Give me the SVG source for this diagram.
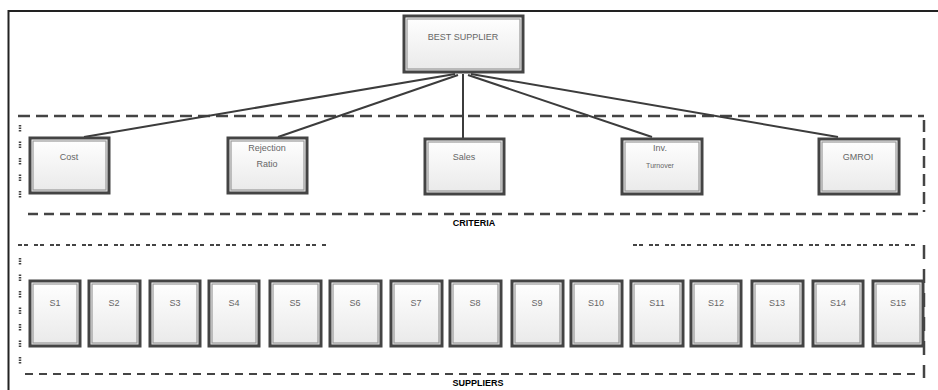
<svg xmlns="http://www.w3.org/2000/svg" width="938" height="390" viewBox="0 0 938 390">
<defs>
<linearGradient id="g" x1="0" y1="0" x2="0" y2="1">
<stop offset="0" stop-color="#ffffff"/>
<stop offset="1" stop-color="#e9e9e9"/>
</linearGradient>
<style>
.box{fill:url(#g);stroke:#444;stroke-width:3}
.inner{fill:none;stroke:#9a9a9a;stroke-width:1.2}
.t{font-family:"Liberation Sans",Arial,sans-serif;font-size:9px;fill:#666;text-anchor:middle}
.conn{stroke:#3c3c3c;stroke-width:2;fill:none}
.dash{stroke:#444;stroke-width:2.5;fill:none;stroke-dasharray:12 6}
.dot{stroke:#444;stroke-width:2;fill:none;stroke-dasharray:4 2 4 6}
.side{fill:none;stroke:#444;stroke-width:2.5;stroke-dasharray:1.5 1 1.5 1 1.5 10}
.lab{font-family:"Liberation Sans",Arial,sans-serif;font-size:9px;font-weight:bold;fill:#000;text-anchor:middle}
</style>
</defs>
<g id="frame">
<path d="M8.5 390 V11 H938" fill="none" stroke="#222" stroke-width="2"/>
</g>
<g id="groups">
<path class="dash" d="M18 116 H924"/>
<path class="dash" d="M924 120 V212"/>
<path class="dash" d="M28 214 H924" style="stroke-dasharray:10 6"/>
<path class="side" d="M20 125 V205"/>
<text class="lab" x="474" y="226">CRITERIA</text>
<path class="dot" d="M18 245 H327"/>
<path class="dot" d="M633 245 H918"/>
<path class="dash" d="M924 245 V378" style="stroke-dasharray:14 10"/>
<path class="dot" d="M25 374 H920" style="stroke-dasharray:8 6"/>
<path class="side" d="M20 258 V365"/>
<text class="lab" x="478" y="386">SUPPLIERS</text>
</g>
<g id="connectors">
<path class="conn" d="M455 74 L84 137"/>
<path class="conn" d="M458 75 L278 137"/>
<path class="conn" d="M463 74 V138"/>
<path class="conn" d="M468 75 L652 137"/>
<path class="conn" d="M471 74 L838 137"/>
</g>
<g id="best">
<rect class="box" x="404" y="16" width="119" height="56"/><rect class="inner" x="407" y="19" width="113" height="50"/>
<text class="t" x="463" y="40">BEST SUPPLIER</text>
</g>
<g id="cost"><rect class="box" x="30" y="138" width="79" height="55"/><rect class="inner" x="33" y="141" width="73" height="49"/><text class="t" x="69" y="160">Cost</text></g>
<g id="rejection"><rect class="box" x="228" y="138" width="79" height="55"/><rect class="inner" x="231" y="141" width="73" height="49"/><text class="t" x="267" y="151">Rejection</text><text class="t" x="267" y="167">Ratio</text></g>
<g id="sales"><rect class="box" x="425" y="139" width="79" height="55"/><rect class="inner" x="428" y="142" width="73" height="49"/><text class="t" x="464" y="160">Sales</text></g>
<g id="inv"><rect class="box" x="622" y="139" width="80" height="55"/><rect class="inner" x="625" y="142" width="74" height="49"/><text class="t" x="660" y="151">Inv.</text><text class="t" x="660" y="168" style="font-size:7px">Turnover</text></g>
<g id="gmroi"><rect class="box" x="819" y="139" width="80" height="55"/><rect class="inner" x="822" y="142" width="74" height="49"/><text class="t" x="858" y="160">GMROI</text></g>
<g id="s1"><rect class="box" x="30" y="281" width="50" height="65"/><rect class="inner" x="33" y="284" width="44" height="59"/><text class="t" x="55" y="306">S1</text></g>
<g id="s2"><rect class="box" x="89" y="281" width="51" height="65"/><rect class="inner" x="92" y="284" width="45" height="59"/><text class="t" x="114" y="306">S2</text></g>
<g id="s3"><rect class="box" x="150" y="281" width="50" height="65"/><rect class="inner" x="153" y="284" width="44" height="59"/><text class="t" x="175" y="306">S3</text></g>
<g id="s4"><rect class="box" x="209" y="281" width="50" height="65"/><rect class="inner" x="212" y="284" width="44" height="59"/><text class="t" x="234" y="306">S4</text></g>
<g id="s5"><rect class="box" x="270" y="281" width="51" height="65"/><rect class="inner" x="273" y="284" width="45" height="59"/><text class="t" x="295" y="306">S5</text></g>
<g id="s6"><rect class="box" x="330" y="281" width="51" height="65"/><rect class="inner" x="333" y="284" width="45" height="59"/><text class="t" x="355" y="306">S6</text></g>
<g id="s7"><rect class="box" x="391" y="281" width="51" height="65"/><rect class="inner" x="394" y="284" width="45" height="59"/><text class="t" x="416" y="306">S7</text></g>
<g id="s8"><rect class="box" x="450" y="281" width="51" height="65"/><rect class="inner" x="453" y="284" width="45" height="59"/><text class="t" x="475" y="306">S8</text></g>
<g id="s9"><rect class="box" x="512" y="281" width="51" height="65"/><rect class="inner" x="515" y="284" width="45" height="59"/><text class="t" x="537" y="306">S9</text></g>
<g id="s10"><rect class="box" x="571" y="281" width="51" height="65"/><rect class="inner" x="574" y="284" width="45" height="59"/><text class="t" x="596" y="306">S10</text></g>
<g id="s11"><rect class="box" x="631" y="281" width="52" height="65"/><rect class="inner" x="634" y="284" width="46" height="59"/><text class="t" x="657" y="306">S11</text></g>
<g id="s12"><rect class="box" x="691" y="281" width="50" height="65"/><rect class="inner" x="694" y="284" width="44" height="59"/><text class="t" x="716" y="306">S12</text></g>
<g id="s13"><rect class="box" x="752" y="281" width="51" height="65"/><rect class="inner" x="755" y="284" width="45" height="59"/><text class="t" x="777" y="306">S13</text></g>
<g id="s14"><rect class="box" x="813" y="281" width="50" height="65"/><rect class="inner" x="816" y="284" width="44" height="59"/><text class="t" x="838" y="306">S14</text></g>
<g id="s15"><rect class="box" x="873" y="281" width="50" height="65"/><rect class="inner" x="876" y="284" width="44" height="59"/><text class="t" x="898" y="306">S15</text></g>
</svg>
